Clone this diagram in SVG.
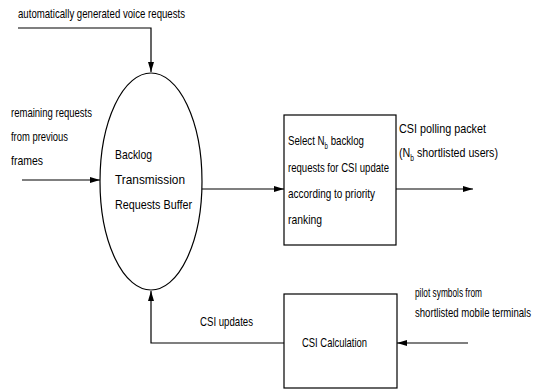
<svg xmlns="http://www.w3.org/2000/svg" width="533" height="392" viewBox="0 0 533 392">
<style>
text{font-family:"Liberation Sans",Arial,sans-serif;font-size:13.5px;fill:#000}
.sub{font-size:8.5px}
.ln{fill:none;stroke:#000;stroke-width:1.2}
.nd{fill:#fff;stroke:#000;stroke-width:1.2}
</style>
<defs>
<marker id="ah" viewBox="0 0 10 6" refX="10" refY="3" markerWidth="10" markerHeight="6" markerUnits="userSpaceOnUse" orient="auto">
<path d="M0,0 L10,3 L0,6 Z" fill="#000"/>
</marker>
</defs>
<rect width="533" height="392" fill="#fff"/>
<g id="connectors">
<polyline class="ln" points="18,28 151,28 151,72" marker-end="url(#ah)"/>
<line class="ln" x1="22" y1="180" x2="100" y2="180" marker-end="url(#ah)"/>
<line class="ln" x1="202" y1="189" x2="284" y2="189" marker-end="url(#ah)"/>
<line class="ln" x1="396" y1="189" x2="473" y2="189" marker-end="url(#ah)"/>
<line class="ln" x1="468" y1="343" x2="397" y2="343" marker-end="url(#ah)"/>
<polyline class="ln" points="284,343 151,343 151,291" marker-end="url(#ah)"/>
</g>
<g id="buffer">
<ellipse class="nd" cx="151" cy="181.5" rx="51" ry="108.5"/>
<text x="115" y="159" textLength="37" lengthAdjust="spacingAndGlyphs">Backlog</text>
<text x="115" y="184" textLength="70" lengthAdjust="spacingAndGlyphs">Transmission</text>
<text x="115" y="209" textLength="77" lengthAdjust="spacingAndGlyphs">Requests Buffer</text>
</g>
<g id="select">
<rect class="nd" x="284" y="115" width="112" height="130"/>
<text x="288" y="145" textLength="76" lengthAdjust="spacingAndGlyphs">Select N<tspan class="sub" dy="4">b</tspan><tspan dy="-4"> backlog</tspan></text>
<text x="288" y="172" textLength="101" lengthAdjust="spacingAndGlyphs">requests for CSI update</text>
<text x="288" y="198" textLength="87" lengthAdjust="spacingAndGlyphs">according to priority</text>
<text x="288" y="224" textLength="34" lengthAdjust="spacingAndGlyphs">ranking</text>
</g>
<g id="csicalc">
<rect class="nd" x="284" y="294" width="113" height="94"/>
<text x="302" y="347" textLength="65" lengthAdjust="spacingAndGlyphs">CSI Calculation</text>
</g>
<g id="labels">
<text x="18" y="18" textLength="167" lengthAdjust="spacingAndGlyphs">automatically generated voice requests</text>
<text x="11" y="117" textLength="81" lengthAdjust="spacingAndGlyphs">remaining requests</text>
<text x="11" y="141" textLength="57" lengthAdjust="spacingAndGlyphs">from previous</text>
<text x="11" y="165" textLength="32" lengthAdjust="spacingAndGlyphs">frames</text>
<text x="399" y="133" textLength="87" lengthAdjust="spacingAndGlyphs">CSI polling packet</text>
<text x="399" y="157" textLength="99" lengthAdjust="spacingAndGlyphs">(N<tspan class="sub" dy="4">b</tspan><tspan dy="-4"> shortlisted users)</tspan></text>
<text x="415" y="297" textLength="67" lengthAdjust="spacingAndGlyphs">pilot symbols from</text>
<text x="415" y="317" textLength="116" lengthAdjust="spacingAndGlyphs">shortlisted mobile terminals</text>
<text x="200" y="326" textLength="53" lengthAdjust="spacingAndGlyphs">CSI updates</text>
</g>
</svg>
